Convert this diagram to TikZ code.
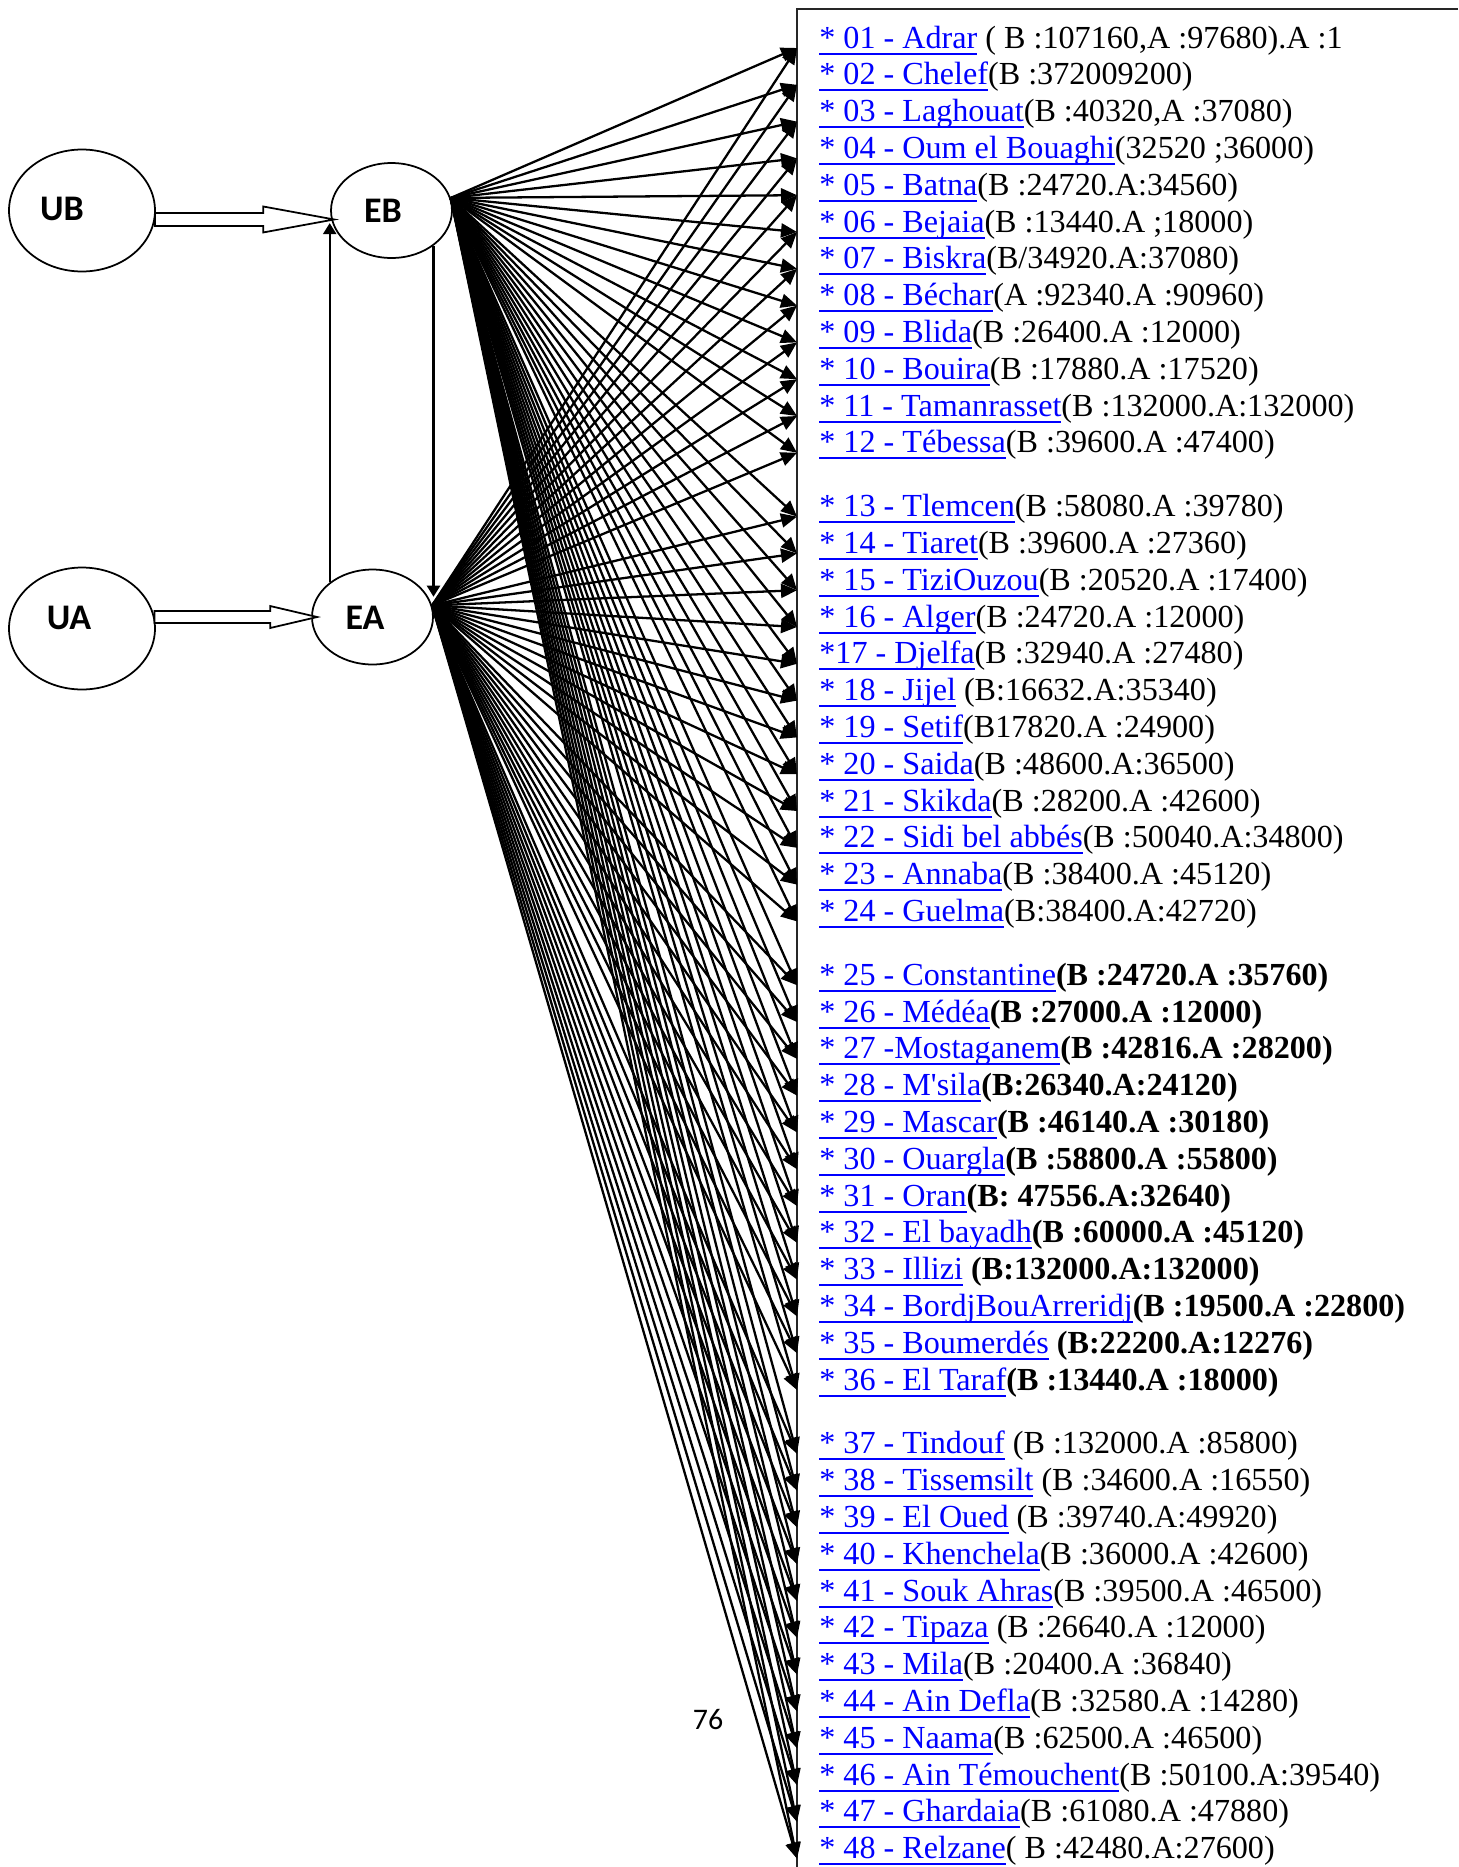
\documentclass[tikz,border=0pt]{standalone}
\usepackage{fontspec}
\setmainfont{Liberation Serif}
\newfontfamily\calibri{Carlito}
\usetikzlibrary{arrows.meta,calc,shapes.geometric}
\definecolor{linkBlue}{HTML}{0000FF}
\newsavebox\lnkbox
\newcommand\lnk[1]{\sbox\lnkbox{\color{linkBlue}#1}\rlap{\color{linkBlue}\rule[-0.13cm]{\wd\lnkbox}{0.04cm}}\usebox\lnkbox}

\begin{document}
\begin{tikzpicture}[x=0.02cm,y=-0.02cm,
  ent/.style={draw,ellipse,line width=1pt,inner sep=0pt},
  ubox/.style={ent,minimum width=2.92cm,minimum height=2.44cm},
  ebox/.style={ent,minimum width=2.42cm,minimum height=1.9cm},
  lab/.style={font=\fontsize{20.5}{20.5}\selectfont\calibri\bfseries,inner sep=0pt},
  hollow/.style={draw,line width=1pt,fill=white,line join=miter},
  vert/.style={line width=1.3pt,-{Triangle[length=0.22cm,width=0.26cm]}},
  fan/.style={line width=1.3pt,-{Triangle[length=0.32cm,width=0.28cm]}},
  boxline/.style={line width=1.2pt,black!85},
  item/.style={anchor=base west,xshift=0.44cm,inner sep=0pt,font=\fontsize{18.3}{20}\selectfont},
  pgno/.style={font=\fontsize{17}{17}\selectfont\calibri,inner sep=0pt}]
  \useasboundingbox (0,0) rectangle (1458,1867);
  % units and stocks
  \node[ubox,label={[lab,xshift=-0.4cm,yshift=0.04cm]center:UB}] (UB) at (82,210.5) {};
  \node[ebox,label={[lab,xshift=-0.17cm]center:EB}] (EB) at (391.5,210.5) {};
  \node[ubox,label={[lab,xshift=-0.26cm,yshift=0.21cm]center:UA}] (UA) at (82,628.5) {};
  \node[ebox,label={[lab,xshift=-0.15cm,yshift=-0.02cm]center:EA}] (EA) at (372.5,617) {};
  % hollow arrows U -> E
  \path (UB.-7) coordinate (ub-s) (ub-s -| EB.west) ++(4,0) coordinate (ub-t);
  \draw[hollow] ($(ub-s)+(0,-6.5)$) -- ($(ub-t)+(-71,-6.5)$) -- ($(ub-t)+(-71,-13)$) -- (ub-t)
    -- ($(ub-t)+(-71,13)$) -- ($(ub-t)+(-71,6.5)$) -- ($(ub-s)+(0,6.5)$) -- cycle;
  \path (UA.9) coordinate (ua-s) (ua-s -| EA.west) ++(6,0) coordinate (ua-t);
  \draw[hollow] ($(ua-s)+(0,-6)$) -- ($(ua-t)+(-47,-6)$) -- ($(ua-t)+(-47,-11)$) -- (ua-t)
    -- ($(ua-t)+(-47,11)$) -- ($(ua-t)+(-47,6)$) -- ($(ua-s)+(0,6)$) -- cycle;
  % links between EA and EB
  \draw[vert] (EA.141) -- (EA.141 |- EB.192);
  \draw[vert] (EB.320) -- (EB.320 |- EA.20);
  % frame of the list
  \draw[boxline] (1458,9) -- (797,9) -- (797,1867);
  \foreach \i in {1,...,48}{
    \pgfmathsetmacro\yb{48+36.8*(\i-1)+27*floor((\i-1)/12)}
    \coordinate (t\i) at (797,\yb);}
  % fans from EB and EA
  \foreach \i in {1,...,48}{
    \draw[fan] (EB.12) -- (t\i);
    \draw[fan] (EA.11) -- (t\i);}
  % wilayas
  \node[item] (L1) at (t1) {\lnk{* 01 - Adrar} ( B :107160,A :97680).A :1};
  \node[item] (L2) at (t2) {\lnk{* 02 - Chelef}(B :372009200)};
  \node[item] (L3) at (t3) {\lnk{* 03 - Laghouat}(B :40320,A :37080)};
  \node[item] (L4) at (t4) {\lnk{* 04 - Oum el Bouaghi}(32520 ;36000)};
  \node[item] (L5) at (t5) {\lnk{* 05 - Batna}(B :24720.A:34560)};
  \node[item] (L6) at (t6) {\lnk{* 06 - Bejaia}(B :13440.A ;18000)};
  \node[item] (L7) at (t7) {\lnk{* 07 - Biskra}(B/34920.A:37080)};
  \node[item] (L8) at (t8) {\lnk{* 08 - Béchar}(A :92340.A :90960)};
  \node[item] (L9) at (t9) {\lnk{* 09 - Blida}(B :26400.A :12000)};
  \node[item] (L10) at (t10) {\lnk{* 10 - Bouira}(B :17880.A :17520)};
  \node[item] (L11) at (t11) {\lnk{* 11 - Tamanrasset}(B :132000.A:132000)};
  \node[item] (L12) at (t12) {\lnk{* 12 - Tébessa}(B :39600.A :47400)};
  \node[item] (L13) at (t13) {\lnk{* 13 - Tlemcen}(B :58080.A :39780)};
  \node[item] (L14) at (t14) {\lnk{* 14 - Tiaret}(B :39600.A :27360)};
  \node[item] (L15) at (t15) {\lnk{* 15 - TiziOuzou}(B :20520.A :17400)};
  \node[item] (L16) at (t16) {\lnk{* 16 - Alger}(B :24720.A :12000)};
  \node[item] (L17) at (t17) {\lnk{*17 - Djelfa}(B :32940.A :27480)};
  \node[item] (L18) at (t18) {\lnk{* 18 - Jijel} (B:16632.A:35340)};
  \node[item] (L19) at (t19) {\lnk{* 19 - Setif}(B17820.A :24900)};
  \node[item] (L20) at (t20) {\lnk{* 20 - Saida}(B :48600.A:36500)};
  \node[item] (L21) at (t21) {\lnk{* 21 - Skikda}(B :28200.A :42600)};
  \node[item] (L22) at (t22) {\lnk{* 22 - Sidi bel abbés}(B :50040.A:34800)};
  \node[item] (L23) at (t23) {\lnk{* 23 - Annaba}(B :38400.A :45120)};
  \node[item] (L24) at (t24) {\lnk{* 24 - Guelma}(B:38400.A:42720)};
  \node[item] (L25) at (t25) {\lnk{* 25 - Constantine}\textbf{(B :24720.A :35760)}};
  \node[item] (L26) at (t26) {\lnk{* 26 - Médéa}\textbf{(B :27000.A :12000)}};
  \node[item] (L27) at (t27) {\lnk{* 27 -Mostaganem}\textbf{(B :42816.A :28200)}};
  \node[item] (L28) at (t28) {\lnk{* 28 - M\textquotesingle sila}\textbf{(B:26340.A:24120)}};
  \node[item] (L29) at (t29) {\lnk{* 29 - Mascar}\textbf{(B :46140.A :30180)}};
  \node[item] (L30) at (t30) {\lnk{* 30 - Ouargla}\textbf{(B :58800.A :55800)}};
  \node[item] (L31) at (t31) {\lnk{* 31 - Oran}\textbf{(B: 47556.A:32640)}};
  \node[item] (L32) at (t32) {\lnk{* 32 - El bayadh}\textbf{(B :60000.A :45120)}};
  \node[item] (L33) at (t33) {\lnk{* 33 - Illizi} \textbf{(B:132000.A:132000)}};
  \node[item] (L34) at (t34) {\lnk{* 34 - BordjBouArreridj}\textbf{(B :19500.A :22800)}};
  \node[item] (L35) at (t35) {\lnk{* 35 - Boumerdés} \textbf{(B:22200.A:12276)}};
  \node[item] (L36) at (t36) {\lnk{* 36 - El Taraf}\textbf{(B :13440.A :18000)}};
  \node[item] (L37) at (t37) {\lnk{* 37 - Tindouf} (B :132000.A :85800)};
  \node[item] (L38) at (t38) {\lnk{* 38 - Tissemsilt} (B :34600.A :16550)};
  \node[item] (L39) at (t39) {\lnk{* 39 - El Oued} (B :39740.A:49920)};
  \node[item] (L40) at (t40) {\lnk{* 40 - Khenchela}(B :36000.A :42600)};
  \node[item] (L41) at (t41) {\lnk{* 41 - Souk Ahras}(B :39500.A :46500)};
  \node[item] (L42) at (t42) {\lnk{* 42 - Tipaza} (B :26640.A :12000)};
  \node[item] (L43) at (t43) {\lnk{* 43 - Mila}(B :20400.A :36840)};
  \node[item] (L44) at (t44) {\lnk{* 44 - Ain Defla}(B :32580.A :14280)};
  \node[item] (L45) at (t45) {\lnk{* 45 - Naama}(B :62500.A :46500)};
  \node[item] (L46) at (t46) {\lnk{* 46 - Ain Témouchent}(B :50100.A:39540)};
  \node[item] (L47) at (t47) {\lnk{* 47 - Ghardaia}(B :61080.A :47880)};
  \node[item] (L48) at (t48) {\lnk{* 48 - Relzane}( B :42480.A:27600)};
  \node[pgno] (pg) at (708,1720) {76};
\end{tikzpicture}
\end{document}
